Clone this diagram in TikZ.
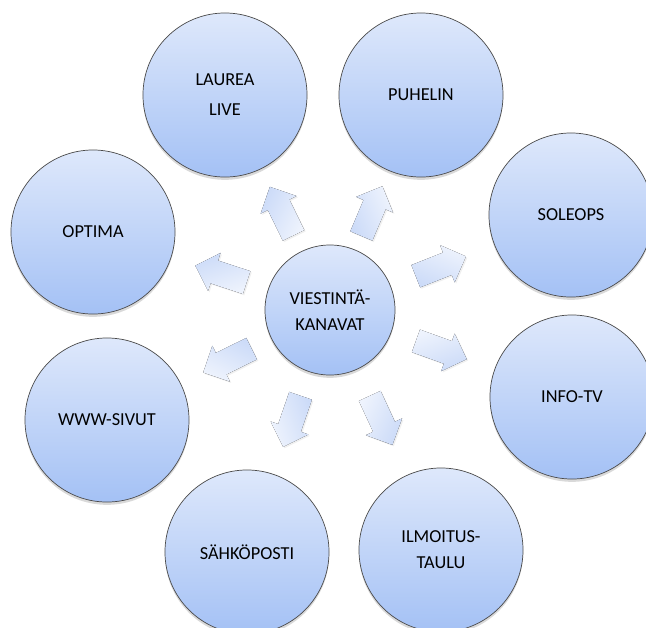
\documentclass[tikz,border=0pt]{standalone}
\usepackage{fontspec}
\setmainfont{Carlito}
\usetikzlibrary{calc,shadows}
\definecolor{ctop}{HTML}{DEE8FB}
\definecolor{cbot}{HTML}{A4C1F5}
\definecolor{cline}{HTML}{4A4A4A}
\definecolor{atop}{HTML}{EEF3FD}
\definecolor{abot}{HTML}{CCDBF8}
\tikzset{
  kanava/.style={circle,draw=cline,line width=0.5pt,top color=ctop,bottom color=cbot,
    minimum size=4.1cm,inner sep=0pt,align=center,font=\fontsize{13}{18.5}\selectfont,
    drop shadow={shadow xshift=0pt,shadow yshift=-2pt,opacity=0.3}},
  nuoli/.style={draw=none,top color=atop,bottom color=abot,
    drop shadow={shadow xshift=1pt,shadow yshift=-1pt,opacity=0.12}},
}

\begin{document}
\begin{tikzpicture}[x=0.025cm,y=-0.025cm]
\clip (0,0) rectangle (646,627);

% ================= circles =================
\node[kanava,minimum size=3.25cm] (vk) at (330,310) {VIESTINTÄ-\\KANAVAT};
\node[kanava] (laurea) at (225,95) {LAUREA\\[3pt]LIVE};
\node[kanava] (puhelin) at (421,95) {PUHELIN};
\node[kanava] (soleops) at (571,215) {SOLEOPS};
\node[kanava] (infotv) at (572,397) {INFO-TV};
\node[kanava] (ilmoitus) at (441,550) {ILMOITUS-\\TAULU};
\node[kanava] (sahkoposti) at (247,552) {SÄHKÖPOSTI};
\node[kanava] (www) at (107,420) {WWW-SIVUT};
\node[kanava] (optima) at (93,232) {OPTIMA};

% ================= block arrows out of the centre =================
\foreach \k in {laurea,puhelin,soleops,infotv,ilmoitus,sahkoposti,www,optima}{
  \pgfmathanglebetweenpoints{\pgfpointanchor{vk}{center}}{\pgfpointanchor{\k}{center}}
  \let\ang\pgfmathresult
  \begin{scope}[shift={($(vk)!0.46!(\k)$)},rotate=\ang]
    \coordinate (a-\k) at (0,0);
    \fill[nuoli,shading angle=-\ang] (-27,-12) -- (7,-12) -- (7,-20) -- (27,0)
      -- (7,20) -- (7,12) -- (-27,12) -- cycle;
  \end{scope}
}

\end{tikzpicture}
\end{document}
